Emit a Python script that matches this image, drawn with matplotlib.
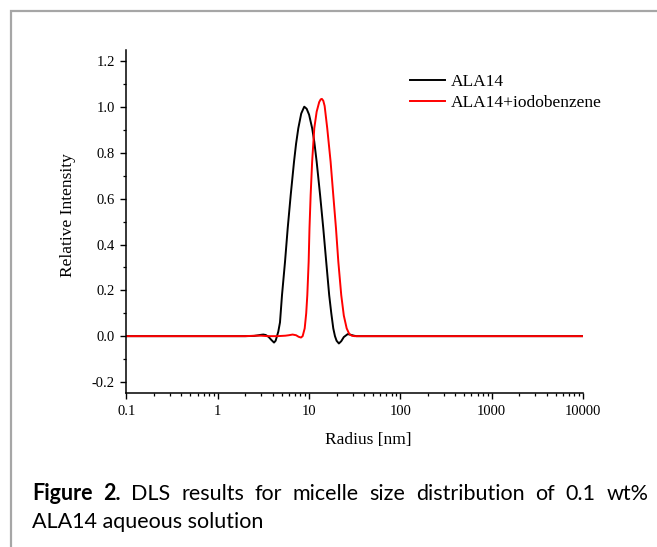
import matplotlib
matplotlib.use("Agg")
import matplotlib.pyplot as plt
import matplotlib.ticker as ticker
from matplotlib.patches import Rectangle
import numpy as np

plt.rcParams['axes.unicode_minus'] = False

# DLS curves (radius in nm, relative intensity)
r_ala14 = [0.1, 1, 2.0, 2.5, 2.8, 3.0, 3.15, 3.35, 3.6, 3.85, 4.13, 4.3, 4.45, 4.6,
           4.8, 5.05, 5.45, 5.83, 6.29, 6.84, 7.2, 7.62, 8.2, 8.85, 9.4, 10.0, 10.8,
           11.4, 12.1, 13.2, 14.3, 15.4, 16.6, 17.5, 18.4, 19.2, 20.0, 21.2, 22.5,
           24.0, 26.5, 28.5, 31.0, 33.0, 40, 100, 1000, 10000]
i_ala14 = [0.0, 0.0, 0.0, 0.001, 0.004, 0.006, 0.007, 0.005, -0.003, -0.016, -0.028,
           -0.02, 0.0, 0.02, 0.06, 0.179, 0.325, 0.471, 0.616, 0.762, 0.84, 0.908,
           0.972, 1.002, 0.993, 0.967, 0.908, 0.849, 0.762, 0.616, 0.471, 0.325,
           0.179, 0.1, 0.034, 0.0, -0.02, -0.032, -0.022, -0.004, 0.009, 0.006,
           0.002, 0.0, 0.0, 0.0, 0.0, 0.0]

r_iodo = [0.1, 1, 2.0, 2.6, 3.0, 3.5, 4.5, 5.5, 6.0, 6.6, 7.2, 7.7, 8.15, 8.5,
          8.95, 9.3, 9.56, 9.89, 10.1, 10.4, 10.8, 11.4, 12.1, 12.9, 13.4, 13.8,
          14.3, 14.8, 15.8, 17.2, 18.4, 19.7, 20.9, 22.5, 24.0, 25.8, 27.5, 29.3,
          31.5, 35, 50, 100, 1000, 10000]
i_iodo = [0.0, 0.0, 0.0, 0.002, 0.002, 0.0, 0.0, 0.002, 0.004, 0.007, 0.004,
          -0.003, -0.006, 0.0, 0.034, 0.1, 0.179, 0.325, 0.471, 0.616, 0.762,
          0.908, 0.98, 1.022, 1.034, 1.036, 1.028, 1.005, 0.908, 0.762, 0.616,
          0.471, 0.325, 0.179, 0.09, 0.034, 0.01, 0.002, 0.0, 0.0, 0.0, 0.0,
          0.0, 0.0]

series_labels = ["ALA14", "ALA14+iodobenzene"]
x_ticks = [0.1, 1, 10, 100, 1000, 10000]
x_ticklabels = ["0.1", "1", "10", "100", "1000", "10000"]
y_ticks = [-0.2, 0.0, 0.2, 0.4, 0.6, 0.8, 1.0, 1.2]

caption_line1 = ["Figure", "2.", "DLS", "results", "for", "micelle", "size",
                 "distribution", "of", "0.1", "wt%"]
caption_line2 = "ALA14 aqueous solution"

fig = plt.figure(figsize=(6.57, 5.47), dpi=100)
ax = fig.add_axes([0.1925, 0.2808, 0.6949, 0.628])

ax.plot(r_ala14, i_ala14, color="black", lw=1.4, label=series_labels[0])
ax.plot(r_iodo, i_iodo, color="#ff0000", lw=1.4, label=series_labels[1])

ax.set_xscale("log")
ax.set_xlim(0.1, 10000)
ax.set_ylim(-0.25, 1.25)
ax.set_xticks(x_ticks)
ax.set_xticklabels(x_ticklabels)
ax.xaxis.set_minor_locator(ticker.LogLocator(base=10, subs=np.arange(2, 10)))
ax.xaxis.set_minor_formatter(ticker.NullFormatter())
ax.set_yticks(y_ticks)
ax.yaxis.set_major_formatter(ticker.FormatStrFormatter("%.1f"))
ax.yaxis.set_minor_locator(ticker.MultipleLocator(0.1))

serif = "Liberation Serif"
for lab in ax.get_xticklabels() + ax.get_yticklabels():
    lab.set_fontfamily(serif)
    lab.set_fontsize(10.5)
ax.tick_params(which="major", length=4.3, width=1, pad=4)
ax.tick_params(which="minor", length=2.5, width=0.9)

for s in ["top", "right"]:
    ax.spines[s].set_visible(False)
for s in ["left", "bottom"]:
    ax.spines[s].set_linewidth(1.1)

ax.set_xlabel("Radius [nm]", fontfamily=serif, fontsize=12.5)
ax.set_ylabel("Relative Intensity", fontfamily=serif, fontsize=12.5)
ax.xaxis.set_label_coords(0.529, -0.112)
ax.yaxis.set_label_coords(-0.111, 0.519)

ax.legend(loc="upper left", bbox_to_anchor=(0.603, 0.955), frameon=False,
          borderpad=0, handlelength=2.0, handletextpad=0.3, labelspacing=0.25,
          prop={"family": serif, "size": 12.5})

# grey frame around the figure
fig.patches.append(Rectangle((11 / 657, -0.1), 1.2, 1 - 11 / 547 + 0.1,
                             transform=fig.transFigure, fill=False,
                             edgecolor="#a6a6a6", lw=1.6))

# justified caption, first line spread across the width
cap_font = "Lato"
cap_size = 15.5
left_px, right_px = 32, 648.5
y1 = 1 - 493.5 / 547
renderer = fig.canvas.get_renderer()
words = []
for i, w in enumerate(caption_line1):
    t = fig.text(0, y1, w, fontfamily=cap_font, fontsize=cap_size, va="center",
                 fontweight="bold" if i < 2 else "normal")
    words.append(t)
widths = [t.get_window_extent(renderer).width for t in words]
gap = (right_px - left_px - sum(widths)) / (len(words) - 1)
xpos = left_px
for t, wd in zip(words, widths):
    t.set_x(xpos / 657)
    xpos += wd + gap
fig.text(left_px / 657, 1 - 522.5 / 547, caption_line2, fontfamily=cap_font,
         fontsize=cap_size, va="center")

fig.savefig("out.png", dpi=100)
